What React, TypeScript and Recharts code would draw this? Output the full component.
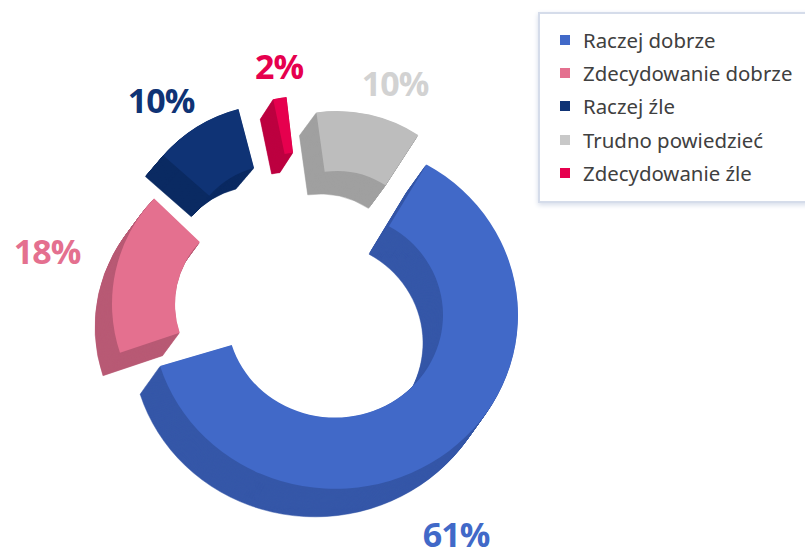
import { PieChart, Pie, Cell, Sector, Legend } from 'recharts'

const CATEGORIES = ['Raczej dobrze', 'Zdecydowanie dobrze', 'Raczej źle', 'Zdecydowanie źle', 'Trudno powiedzieć']
const VALUES = [61, 18, 10, 2, 10]
const LEGEND_ORDER = ['Raczej dobrze', 'Zdecydowanie dobrze', 'Raczej źle', 'Trudno powiedzieć', 'Zdecydowanie źle']

const COLORS = ['#4169c8', '#e4708f', '#0f3375', '#e6004e', '#bdbdbd']
const SIDE_COLORS = ['#3557a8', '#b85a75', '#0b2a62', '#bd0040', '#a0a0a0']
const LABEL_COLORS = ['#4169c8', '#e4708f', '#0f3375', '#e6004e', '#d2d2d2']

// each slice is pulled out of the ring by hand, [x, y, inner, outer, depthX, depthY]
const SLICE_LAYOUT = [
  [335, 315, 108, 183, -20, 28],
  [265, 304, 90, 153, -17, 23],
  [277, 255, 90, 151, -18, 21],
  [304, 247, 95, 151, -13, 20],
  [337, 260, 89, 149, -17, 23],
]
// the picture has perspective, so edges sit a few degrees off the true angle (clockwise degrees)
const EDGE_TURN = [
  [-4, 1.5],
  [0, -2],
  [-4.4, -6],
  [-3, -5],
  [-6.3, -1],
]
const LABEL_POSITIONS = [
  [456, 534],
  [47, 251],
  [161, 100],
  [279, 66],
  [395, 83],
]

const data = CATEGORIES.map((name, i) => ({ name, value: VALUES[i] }))

function ExtrudedSlice(props: any) {
  const { index, startAngle, endAngle, fill } = props
  const [x, y, inner, outer, depthX, depthY] = SLICE_LAYOUT[index]
  const [turnStart, turnEnd] = EDGE_TURN[index]
  const squash = index === 0 ? `translate(0 ${y}) scale(1 0.95) translate(0 ${-y})` : undefined
  const steps = Array.from({ length: 30 }, (_, i) => 30 - i)
  const sector = {
    cx: x,
    cy: y,
    innerRadius: inner,
    outerRadius: outer,
    startAngle: startAngle - turnStart,
    endAngle: endAngle - turnEnd,
    transform: squash,
  }
  return (
    <g>
      {steps.map(s => (
        <g key={s} transform={`translate(${(depthX * s) / 30} ${(depthY * s) / 30})`}>
          <Sector {...sector} fill={SIDE_COLORS[index]} stroke={SIDE_COLORS[index]} strokeWidth={0.5} />
        </g>
      ))}
      <Sector {...sector} fill={fill} stroke="none" />
    </g>
  )
}

function PercentLabel(props: any) {
  const { index, value } = props
  const [x, y] = LABEL_POSITIONS[index]
  return (
    <text
      x={x}
      y={y}
      fill={LABEL_COLORS[index]}
      textAnchor="middle"
      dominantBaseline="central"
      fontFamily="'Open Sans', sans-serif"
      fontSize={34}
      fontWeight={700}
      letterSpacing={-1}
    >
      {value}%
    </text>
  )
}

function LegendBox() {
  return (
    <div
      style={{
        width: 285,
        height: 191,
        boxSizing: 'border-box',
        background: '#fff',
        border: '2px solid #d5dcea',
        boxShadow: '0 2px 5px #d5dcea',
        paddingTop: 9.5,
        paddingLeft: 20,
        fontFamily: "'Noto Sans', sans-serif",
        fontSize: 20.4,
        color: '#404040',
      }}
    >
      {LEGEND_ORDER.map(name => {
        const i = CATEGORIES.indexOf(name)
        return (
          <div key={name} style={{ display: 'flex', alignItems: 'center', height: 33.2, whiteSpace: 'nowrap' }}>
            <span style={{ width: 10, height: 10, background: i === 4 ? '#c8c8c8' : COLORS[i], marginRight: 13 }} />
            {name}
          </div>
        )
      })}
    </div>
  )
}

export default function App() {
  return (
    <div style={{ position: 'absolute', left: 0, top: 0, width: 805, height: 551, overflow: 'hidden' }}>
      <PieChart width={805} height={551} margin={{ top: 0, right: 0, bottom: 0, left: 0 }}>
        <Pie
          data={data}
          dataKey="value"
          nameKey="name"
          cx={335}
          cy={315}
          innerRadius={108}
          outerRadius={183}
          startAngle={56}
          endAngle={-304}
          stroke="none"
          shape={ExtrudedSlice}
          label={PercentLabel}
          labelLine={false}
          isAnimationActive={false}
        >
          {data.map((d, i) => (
            <Cell key={d.name} fill={COLORS[i]} />
          ))}
        </Pie>
        <Legend content={<LegendBox />} wrapperStyle={{ left: 538, top: 12, width: 285, bottom: 'auto' }} />
      </PieChart>
    </div>
  )
}
